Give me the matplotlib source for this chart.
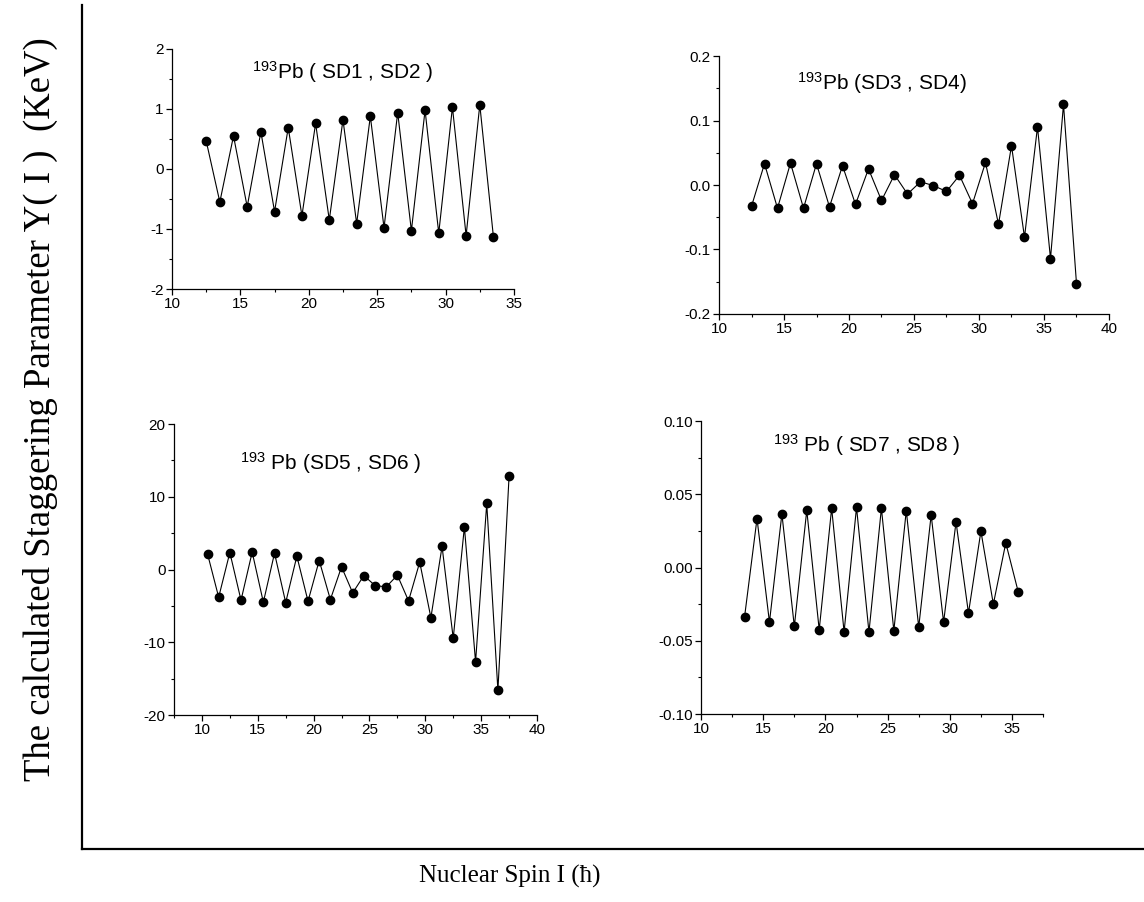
import numpy as np
import matplotlib
matplotlib.use("Agg")
import matplotlib.pyplot as plt
from matplotlib.ticker import MultipleLocator, FormatStrFormatter

plt.rcParams['font.family'] = ['Liberation Sans', 'DejaVu Sans']
plt.rcParams['axes.unicode_minus'] = False
plt.rcParams['mathtext.fontset'] = 'custom'
plt.rcParams['mathtext.rm'] = 'Liberation Sans'
plt.rcParams['mathtext.it'] = 'Liberation Sans:italic'
plt.rcParams['mathtext.bf'] = 'Liberation Sans:bold'

# spin values (I) and staggering Y(I) for each band pair
spin_sd12 = np.arange(12.5, 34.0, 1.0)
y_sd12 = [0.47, -0.55, 0.55, -0.63, 0.62, -0.71, 0.69, -0.78, 0.76, -0.85, 0.82,
          -0.91, 0.88, -0.98, 0.94, -1.03, 0.98, -1.07, 1.03, -1.11, 1.07, -1.14]

spin_sd34 = np.arange(12.5, 38.0, 1.0)
y_sd34 = [-0.033, 0.033, -0.036, 0.034, -0.036, 0.033, -0.034, 0.030, -0.030,
          0.025, -0.024, 0.016, -0.014, 0.005, -0.001, -0.010, 0.015, -0.029,
          0.035, -0.061, 0.061, -0.081, 0.090, -0.114, 0.125, -0.153]

spin_sd56 = np.arange(10.5, 38.0, 1.0)
y_sd56 = [2.16, -3.81, 2.34, -4.22, 2.39, -4.50, 2.25, -4.54, 1.83, -4.36, 1.24,
          -4.13, 0.37, -3.21, -0.83, -2.20, -2.39, -0.78, -4.31, 1.01, -6.61,
          3.17, -9.45, 5.87, -12.71, 9.08, -16.61, 12.84]

spin_sd78 = np.arange(13.5, 36.0, 1.0)
y_sd78 = [-0.0336, 0.0334, -0.0373, 0.0366, -0.0402, 0.0391, -0.0425, 0.0405,
          -0.0439, 0.0411, -0.0441, 0.0405, -0.0432, 0.0389, -0.0407, 0.0359,
          -0.0373, 0.0311, -0.0311, 0.0248, -0.0250, 0.0168, -0.0166]

fig = plt.figure(figsize=(11.44, 9.02), dpi=100)

# outer frame: only left and bottom lines
frame = fig.add_axes([0.0717, 0.0588, 0.93, 0.9357])
for side in ['top', 'right']:
    frame.spines[side].set_visible(False)
for side in ['left', 'bottom']:
    frame.spines[side].set_linewidth(1.6)
frame.set_xticks([])
frame.set_yticks([])
frame.patch.set_visible(False)

fig.text(0.035, 0.546, 'The calculated Staggering Parameter Y( I )  (KeV)',
         rotation=90, ha='center', va='center', fontsize=26.5,
         family=['Liberation Serif', 'DejaVu Serif'])
fig.text(0.446, 0.021, 'Nuclear Spin I (ħ)', ha='center', va='baseline',
         fontsize=18, family=['Liberation Serif', 'DejaVu Serif'])


def panel(rect, x, y, xlim, ylim, ymaj, ymin, yfmt, label, lx, ly):
    ax = fig.add_axes(rect)
    ax.plot(x, y, color='black', lw=0.8, marker='o', ms=6,
            mfc='black', mec='black')
    ax.set_xlim(*xlim)
    ax.set_ylim(*ylim)
    ax.xaxis.set_major_locator(MultipleLocator(5))
    ax.xaxis.set_minor_locator(MultipleLocator(2.5))
    ax.yaxis.set_major_locator(MultipleLocator(ymaj))
    ax.yaxis.set_minor_locator(MultipleLocator(ymin))
    ax.yaxis.set_major_formatter(FormatStrFormatter(yfmt))
    for side in ['top', 'right']:
        ax.spines[side].set_visible(False)
    for side in ['left', 'bottom']:
        ax.spines[side].set_linewidth(0.9)
    ax.tick_params(which='major', direction='out', length=4, width=0.9,
                   labelsize=11, pad=2)
    ax.tick_params(which='minor', direction='out', length=2.5, width=0.8)
    ax.patch.set_visible(False)
    ax.text(lx, ly, label, transform=ax.transAxes, fontsize=15,
            ha='left', va='baseline')
    return ax


panel([0.1503, 0.6796, 0.299, 0.2661], spin_sd12, y_sd12, (10, 35), (-2, 2),
      1, 0.5, '%g', r'$^{\mathrm{193}}$Pb ( SD1 , SD2 )', 0.234, 0.875)
panel([0.6285, 0.6519, 0.3409, 0.2860], spin_sd34, y_sd34, (10, 40), (-0.2, 0.2),
      0.1, 0.05, '%.1f', r'$^{\mathrm{193}}$Pb (SD3 , SD4)', 0.20, 0.868)
panel([0.1521, 0.2073, 0.3173, 0.3226], spin_sd56, y_sd56, (7.5, 40), (-20, 20),
      10, 5, '%g', r'$^{\mathrm{193}}$ Pb (SD5 , SD6 )', 0.182, 0.842)
panel([0.6128, 0.2084, 0.2990, 0.3248], spin_sd78, y_sd78, (10, 37.5), (-0.1, 0.1),
      0.05, 0.025, '%.2f', r'$^{\mathrm{193}}$ Pb ( SD7 , SD8 )', 0.21, 0.894)

fig.savefig('out.png', dpi=100)
